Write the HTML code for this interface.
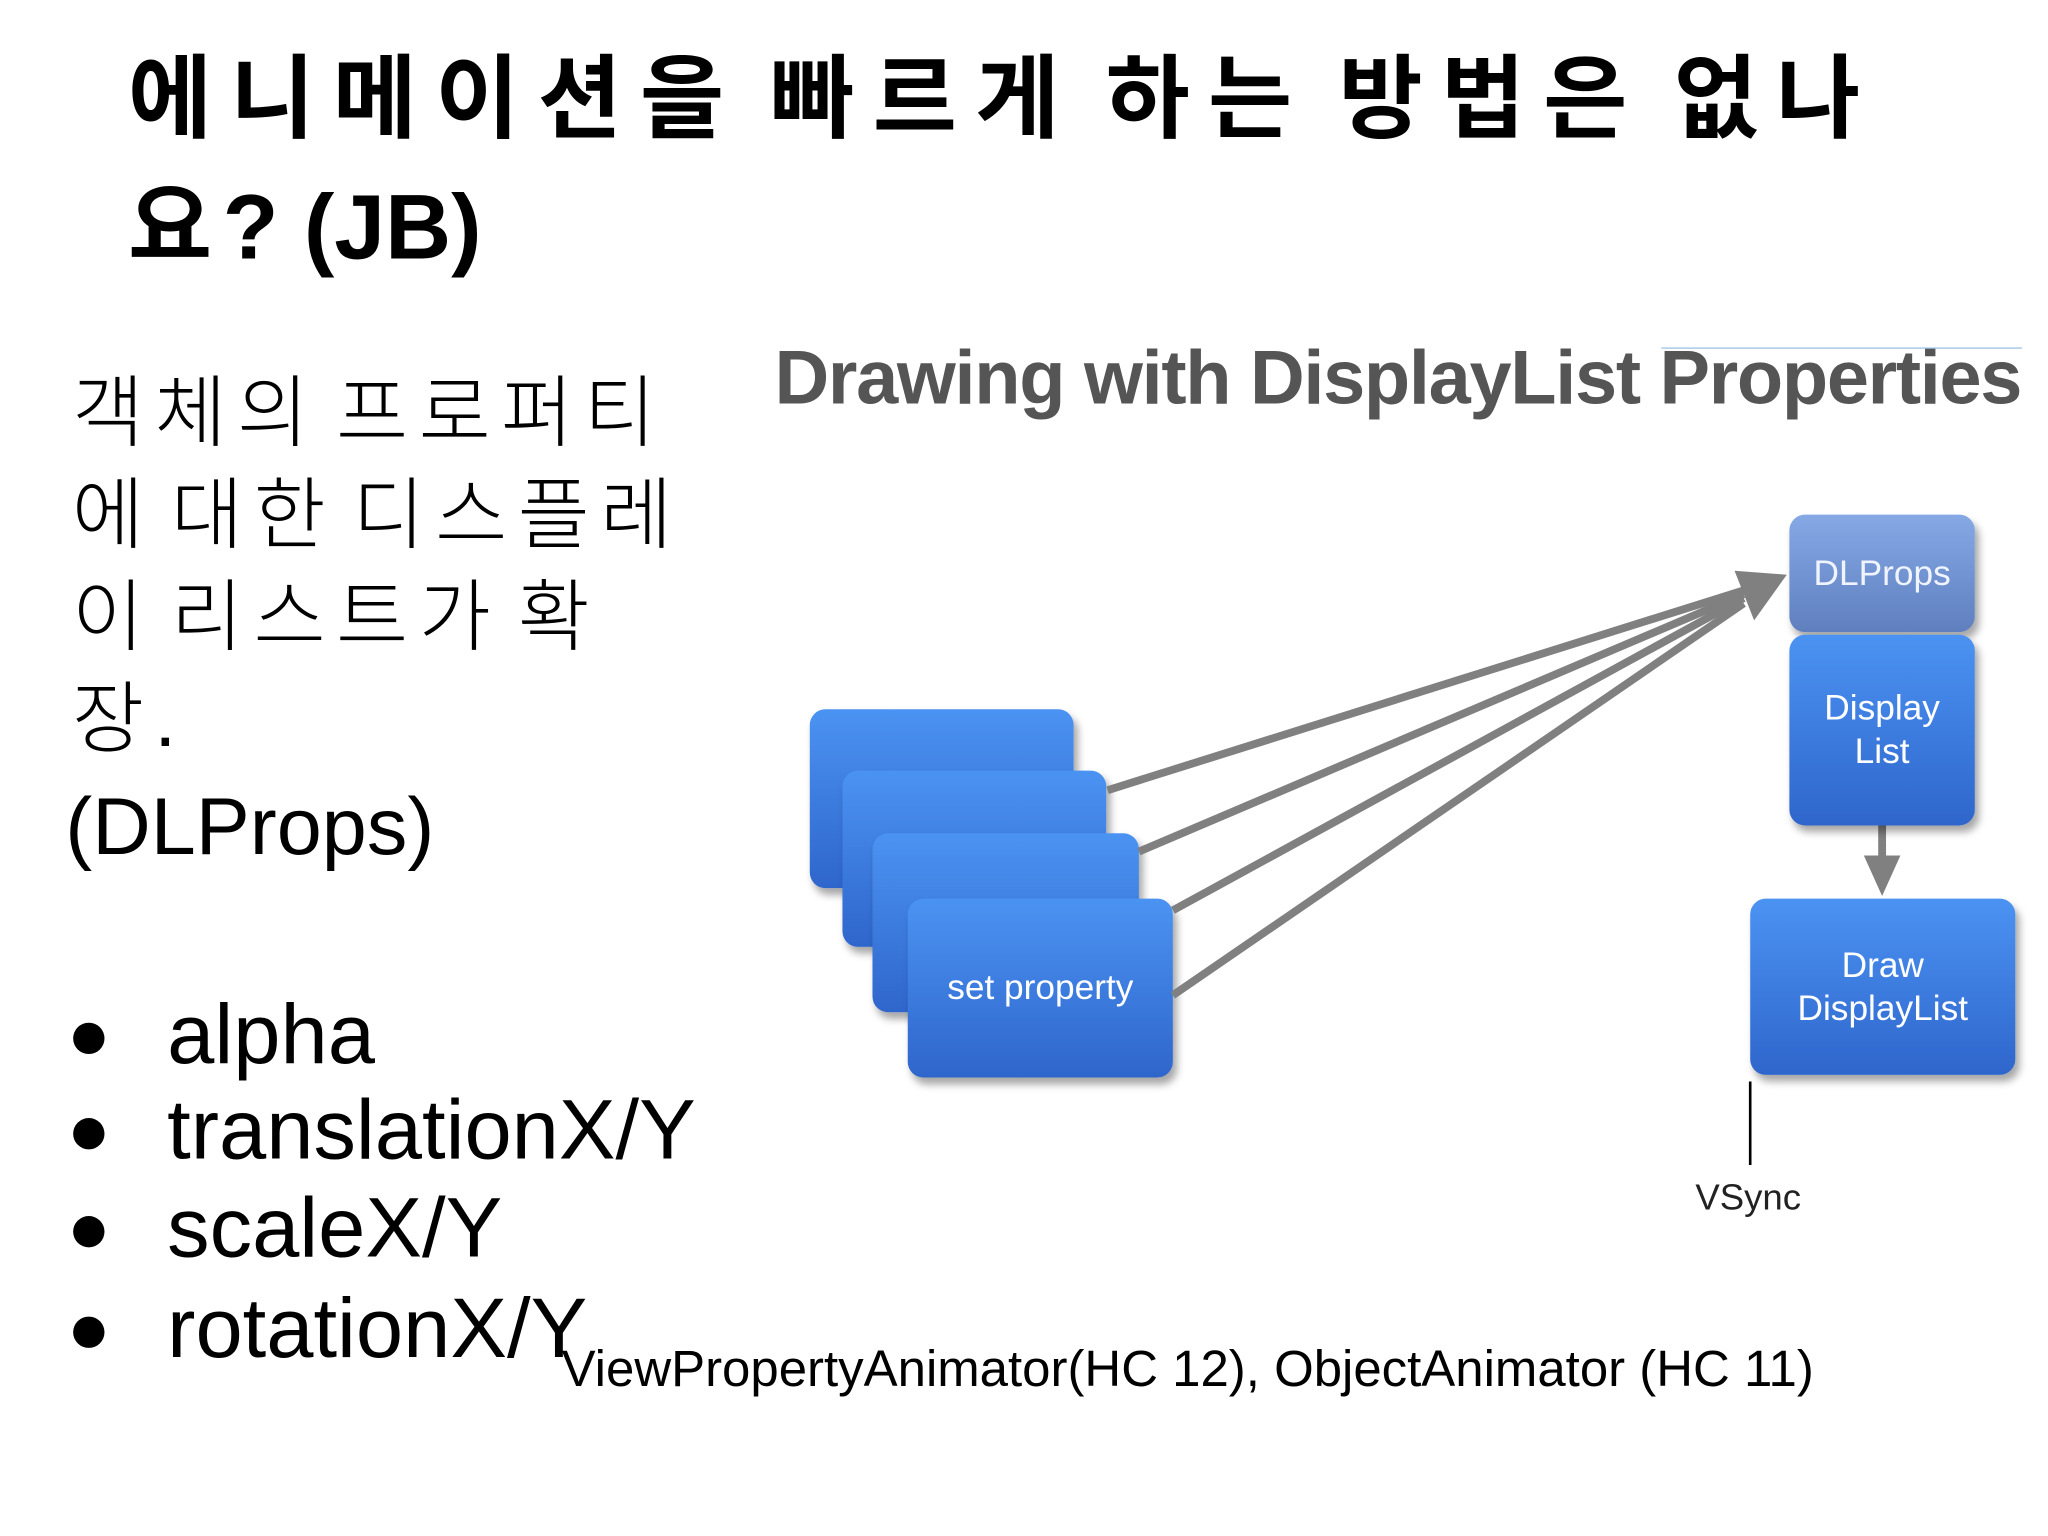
<!DOCTYPE html>
<html><head><meta charset="utf-8"><style>
html,body{margin:0;padding:0;background:#fff;}
#w{width:1568px;height:1176px;position:relative;transform:scale(1.30612);transform-origin:0 0;overflow:hidden;font-family:"Liberation Sans","Noto Sans CJK KR",sans-serif;}
.a{position:absolute;white-space:nowrap;}
.t{font-weight:bold;font-size:70px;color:#000;left:98px;}
.k{font-size:60px;color:#000;left:55px;font-weight:300;line-height:78px;letter-spacing:8px;word-spacing:-12px;}
.b{font-size:65px;left:128px;line-height:75px;}
.d{position:absolute;left:56px;width:24px;height:24px;border-radius:50%;background:#000;}
.box{position:absolute;border-radius:12px;background:linear-gradient(#4b93f2,#2f66cc);box-shadow:3px 5px 6px rgba(0,0,0,.35);color:#fff;font-size:27px;text-align:center;display:flex;align-items:center;justify-content:center;line-height:33px;}
</style></head><body><div id="w">
<div class="a t" style="top:20px;letter-spacing:14px;word-spacing:-12px">에니메이션을 빠르게 하는 방법은 없나</div>
<div class="a t" style="top:118px"><span style="letter-spacing:8px">요</span>? (JB)</div>
<div class="a k" style="top:278px">객체의 프로퍼티<br>에 대한 디스플레<br>이 리스트가 확<br>장.</div>
<div class="a" style="left:50px;top:598px;font-size:62px">(DLProps)</div>
<div class="d" style="top:783px"></div><div class="d" style="top:856px"></div><div class="d" style="top:931px"></div><div class="d" style="top:1008px"></div>
<div class="a b" style="top:754px">alpha</div>
<div class="a b" style="top:827px">translationX/Y</div>
<div class="a b" style="top:902px">scaleX/Y</div>
<div class="a b" style="top:979px">rotationX/Y</div>
<div class="a" style="left:430px;top:1027px;font-size:39px">ViewPropertyAnimator(HC 12), ObjectAnimator (HC 11)</div>
<div class="a" style="left:593px;top:256px;font-size:58px;font-weight:bold;color:#555;letter-spacing:-1px">Drawing with DisplayList Properties</div>
<div class="a" style="left:1272px;top:266px;width:276px;height:1px;background:#9cc3e8"></div>
<div class="box" style="left:620px;top:543px;width:202px;height:137px"></div>
<div class="box" style="left:645px;top:590px;width:202px;height:135px"></div>
<div class="box" style="left:668px;top:638px;width:204px;height:137px"></div>
<div class="box" style="left:695px;top:688px;width:203px;height:137px">set property</div>
<svg class="a" style="left:0;top:0" width="1568" height="1176">
<g stroke="#808080" stroke-width="6" fill="none">
<line x1="848" y1="605" x2="1335" y2="452"/>
<line x1="872" y1="652" x2="1335" y2="455"/>
<line x1="898" y1="697" x2="1335" y2="458"/>
<line x1="898" y1="762" x2="1335" y2="462"/>
<line x1="1441" y1="632" x2="1441" y2="660"/>
</g>
<polygon points="1368,440 1328,437 1343,475" fill="#808080"/>
<polygon points="1427,655 1455,655 1441,686" fill="#808080"/>
<line x1="1340" y1="828" x2="1340" y2="892" stroke="#000" stroke-width="2"/>
</svg>
<div class="box" style="left:1370px;top:394px;width:142px;height:90px;background:linear-gradient(#86a9e6,#5f7fbe);color:#f0f4ff">DLProps</div>
<div class="box" style="left:1370px;top:486px;width:142px;height:146px">Display<br>List</div>
<div class="box" style="left:1340px;top:688px;width:203px;height:135px">Draw<br>DisplayList</div>
<div class="a" style="left:1298px;top:901px;font-size:28px;color:#222">VSync</div>
</div></body></html>
